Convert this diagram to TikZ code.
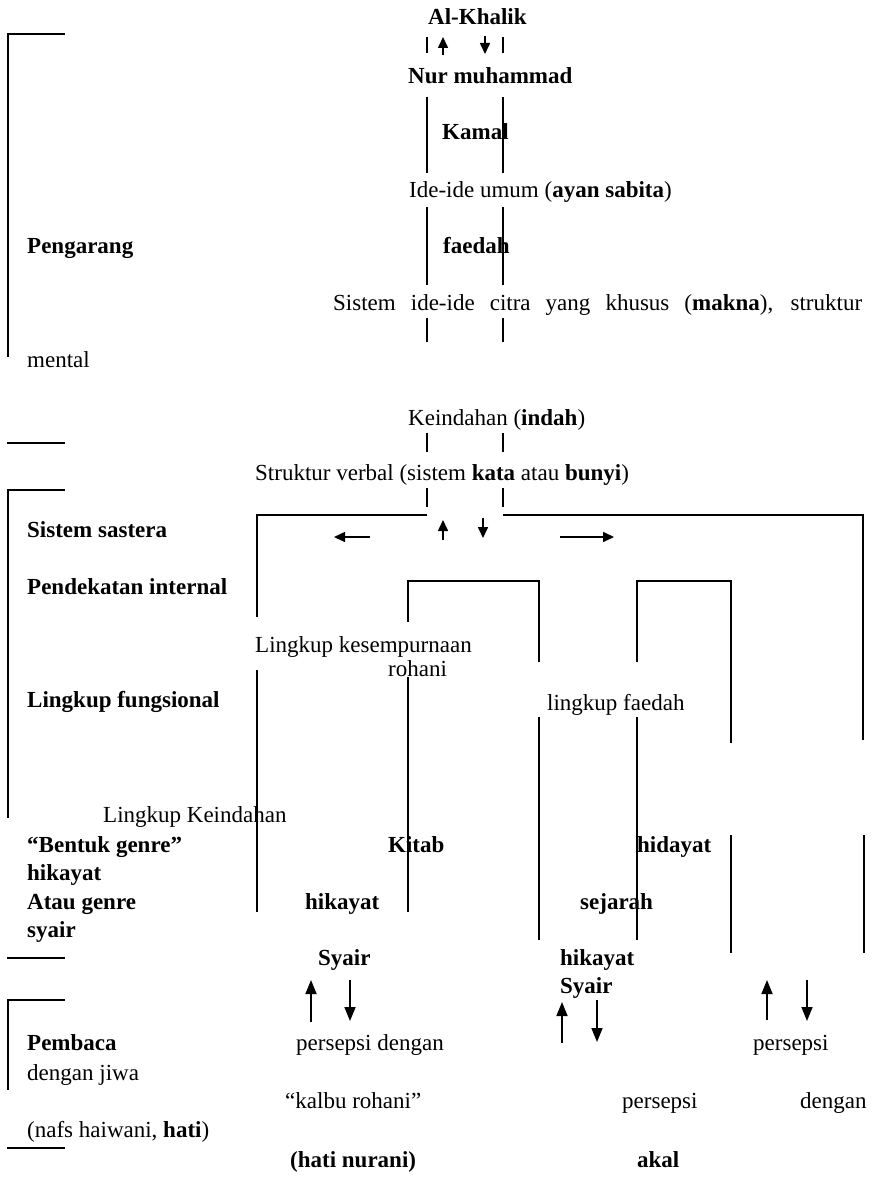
\documentclass[tikz,border=0pt]{standalone}
\usepackage{fontspec}
\setmainfont{Liberation Serif}
\usetikzlibrary{arrows.meta}
\tikzset{
  txt/.style={inner sep=0pt, anchor=base west, font=\fontsize{23}{28}\selectfont},
  ln/.style={line width=1.6pt, line cap=butt},
  arr/.style={line width=1.6pt, -{Triangle[length=14pt,width=11pt]}},
  sarr/.style={line width=1.6pt, -{Triangle[length=11pt,width=10pt]}},
}
\begin{document}
\begin{tikzpicture}[x=1pt,y=-1pt]
\useasboundingbox (0,0) rectangle (871,1198);
% ---------- texts ----------
\node[txt] (alkhalik) at (428,25) {\textbf{Al-Khalik}};
\node[txt] (nur) at (408,84) {\textbf{Nur muhammad}};
\node[txt] (kamal) at (442,140) {\textbf{Kamal}};
\node[txt] (ideum) at (409,198) {Ide-ide umum (\textbf{ayan sabita})};
\node[txt] (faedah) at (443,253) {\textbf{faedah}};
\node[txt] (sistemide) at (333,310) {\makebox[529pt][s]{Sistem ide-ide citra yang khusus (\textbf{makna}), struktur}};
\node[txt] (mental) at (27,367) {mental};
\node[txt] (pengarang) at (27,253) {\textbf{Pengarang}};
\node[txt] (keindahan) at (408,425) {Keindahan (\textbf{indah})};
\node[txt] (struktur) at (255,480) {Struktur verbal (sistem \textbf{kata} atau \textbf{bunyi})};
\node[txt] (sastera) at (27,537) {\textbf{Sistem sastera}};
\node[txt] (pendekatan) at (27,594) {\textbf{Pendekatan internal}};
\node[txt] (kesemp) at (255,652) {Lingkup kesempurnaan};
\node[txt] (rohani) at (388,676) {rohani};
\node[txt] (fungsional) at (27,707) {\textbf{Lingkup fungsional}};
\node[txt] (lfaedah) at (547,710) {lingkup faedah};
\node[txt] (lkeindahan) at (103,822) {Lingkup Keindahan};
\node[txt] (bentuk) at (27,852) {\textbf{“Bentuk genre”}};
\node[txt] (hik1) at (27,880) {\textbf{hikayat}};
\node[txt] (atau) at (27,909) {\textbf{Atau genre}};
\node[txt] (syair1) at (27,937) {\textbf{syair}};
\node[txt] (kitab) at (388,852) {\textbf{Kitab}};
\node[txt] (hidayat) at (637,852) {\textbf{hidayat}};
\node[txt] (hik2) at (305,909) {\textbf{hikayat}};
\node[txt] (sejarah) at (580,909) {\textbf{sejarah}};
\node[txt] (syair2) at (318,965) {\textbf{Syair}};
\node[txt] (hik3) at (560,965) {\textbf{hikayat}};
\node[txt] (syair3) at (560,993) {\textbf{Syair}};
\node[txt] (pembaca) at (27,1050) {\textbf{Pembaca}};
\node[txt] (persdeng) at (296,1050) {persepsi dengan};
\node[txt] (pers1) at (753,1050) {persepsi};
\node[txt] (jiwa) at (27,1080) {dengan jiwa};
\node[txt] (kalbu) at (285,1108) {“kalbu rohani”};
\node[txt] (pers2) at (622,1108) {persepsi};
\node[txt] (dengan) at (800,1108) {dengan};
\node[txt] (nafs) at (27,1137) {(nafs haiwani, \textbf{hati})};
\node[txt] (nurani) at (290,1167) {\textbf{(hati nurani)}};
\node[txt] (akal) at (637,1167) {\textbf{akal}};
% ---------- left brackets ----------
\coordinate (b1a) at (65,34); \coordinate (b1b) at (8,34); \coordinate (b1c) at (8,357);
\coordinate (s1a) at (7,443); \coordinate (s1b) at (65,443);
\coordinate (b2a) at (65,490); \coordinate (b2b) at (8,490); \coordinate (b2c) at (8,818);
\coordinate (s2a) at (7,958); \coordinate (s2b) at (65,958);
\coordinate (b3a) at (65,1000); \coordinate (b3b) at (8,1000); \coordinate (b3c) at (8,1090);
\coordinate (s3a) at (7,1148); \coordinate (s3b) at (65,1148);
\draw[ln] (b1a) -- (b1b) -- (b1c);
\draw[ln] (s1a) -- (s1b);
\draw[ln] (b2a) -- (b2b) -- (b2c);
\draw[ln] (s2a) -- (s2b);
\draw[ln] (b3a) -- (b3b) -- (b3c);
\draw[ln] (s3a) -- (s3b);
% ---------- central column ----------
\foreach \n/\ya/\yb in {c1/37/53, c2/97/173, c3/207/285, c4/318/342, c5/433/452, c6/488/507}{
  \coordinate (\n La) at (427,\ya); \coordinate (\n Lb) at (427,\yb);
  \coordinate (\n Ra) at (503,\ya); \coordinate (\n Rb) at (503,\yb);
  \draw[ln] (\n La) -- (\n Lb);
  \draw[ln] (\n Ra) -- (\n Rb);
}
\coordinate (u1a) at (443,55); \coordinate (u1b) at (443,37);
\coordinate (d1a) at (485,36); \coordinate (d1b) at (485,54);
\draw[sarr] (u1a) -- (u1b);
\draw[sarr] (d1a) -- (d1b);
% ---------- big frame ----------
\coordinate (h1a) at (427,515); \coordinate (h1b) at (257,515); \coordinate (h1c) at (257,617);
\coordinate (h2a) at (503,515); \coordinate (h2b) at (863,515); \coordinate (h2c) at (863,740);
\draw[ln] (h1a) -- (h1b) -- (h1c);
\draw[ln] (h2a) -- (h2b) -- (h2c);
\coordinate (u2a) at (443,540); \coordinate (u2b) at (443,520);
\coordinate (d2a) at (483,518); \coordinate (d2b) at (483,538);
\draw[sarr] (u2a) -- (u2b);
\draw[sarr] (d2a) -- (d2b);
\coordinate (la) at (370,537); \coordinate (lb) at (334,537);
\coordinate (ra) at (560,537); \coordinate (rb) at (614,537);
\draw[sarr] (la) -- (lb);
\draw[sarr] (ra) -- (rb);
% inner boxes
\coordinate (k1a) at (408,622); \coordinate (k1b) at (408,581); \coordinate (k1c) at (539,581); \coordinate (k1d) at (539,662);
\coordinate (k2a) at (637,662); \coordinate (k2b) at (637,581); \coordinate (k2c) at (731,581); \coordinate (k2d) at (731,743);
\draw[ln] (k1a) -- (k1b) -- (k1c) -- (k1d);
\draw[ln] (k2a) -- (k2b) -- (k2c) -- (k2d);
% lower verticals
\foreach \n/\x/\ya/\yb in {v1/257/670/912, v2/408/677/912, v3/539/717/940, v4/637/717/940, v5/731/835/953, v6/864/835/953}{
  \coordinate (\n a) at (\x,\ya); \coordinate (\n b) at (\x,\yb);
  \draw[ln] (\n a) -- (\n b);
}
% bottom arrows
\foreach \n/\x/\ya/\yb in {p1/311/1022/980, p2/350/980/1021, p3/562/1043/1002, p4/597/1000/1042, p5/767/1020/980, p6/807/980/1021}{
  \coordinate (\n a) at (\x,\ya); \coordinate (\n b) at (\x,\yb);
  \draw[arr] (\n a) -- (\n b);
}
\end{tikzpicture}
\end{document}
